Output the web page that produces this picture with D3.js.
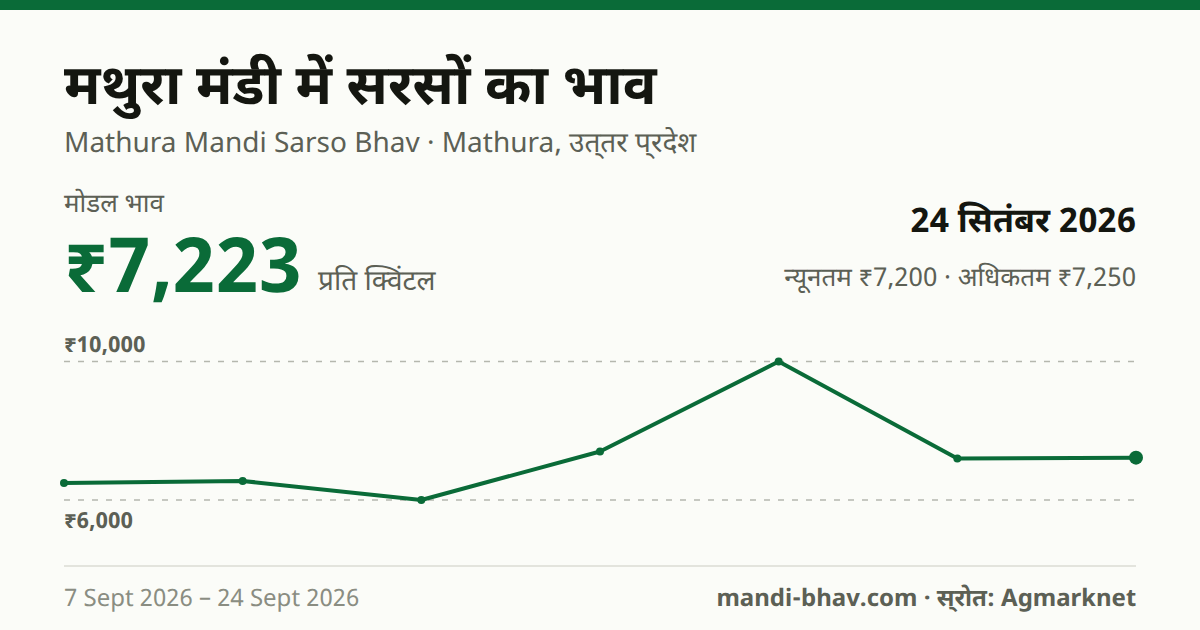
<!DOCTYPE html>
<html lang="hi">
<head>
<meta charset="utf-8">
<script src="https://cdn.jsdelivr.net/npm/d3@7"></script>
<style>
  html, body { margin: 0; padding: 0; background: #fbfcf8; }
  svg { display: block; }
  text { font-family: "Noto Sans Devanagari", "Noto Sans", sans-serif; text-rendering: geometricPrecision; }
</style>
</head>
<body>
<div class="canvas"></div>
<script>
// chart data
const observations = ['1', '2', '3', '4', '5', '6', '7']
const modalPrices = [6490, 6550, 6000, 7400, 10000, 7200, 7223]
const yTicks = [6000, 10000]
const yTickLabels = ['₹6,000', '₹10,000']

const green = '#0a6b38'
const ink = '#141610'
const muted = '#5c6055'
const faint = '#8a8d82'

const dimensions = { chartWidth: 1200, chartHeight: 630 }

const svg = d3
  .select('.canvas')
  .append('svg')
  .attr('width', dimensions.chartWidth)
  .attr('height', dimensions.chartHeight)

svg.append('rect').attr('width', 1200).attr('height', 630).attr('fill', '#fbfcf8')
svg.append('rect').attr('width', 1200).attr('height', 10).attr('fill', green)

// header texts
const label = (x, y, str, size, weight, fill, anchor = 'start') =>
  svg
    .append('text')
    .attr('x', x)
    .attr('y', y)
    .attr('font-size', size)
    .attr('font-weight', weight)
    .attr('fill', fill)
    .attr('text-anchor', anchor)
    .text(str)

label(64, 104, 'मथुरा मंडी में सरसों का भाव', 56, 700, ink)
label(64, 152, 'Mathura Mandi Sarso Bhav · Mathura, उत्\u200Cतर प्\u200Cरदेश', 28, 400, muted)
label(64, 212, 'मोडल भाव', 26, 400, muted)
label(64, 292, '₹7,223', 76, 700, green)
label(318, 290, 'प्रति क्विंटल', 28, 400, muted)
label(1136, 232, '24 सितंबर 2026', 34, 700, ink, 'end')
label(1136, 286, 'न्यूनतम ₹7,200 · अधिकतम ₹7,250', 26, 400, muted, 'end')

// scales
const x = d3.scalePoint().domain(observations).range([64, 1136])
const y = d3.scaleLinear().domain([6000, 10000]).range([500, 361.5])

// gridlines and tick labels
const yAxis = d3
  .axisLeft(y)
  .tickValues(yTicks)
  .tickSize(-1072)
  .offset(0)
  .tickFormat((d) => yTickLabels[yTicks.indexOf(d)])

const yAxisGroup = svg
  .append('g')
  .attr('class', 'y-axis')
  .attr('transform', 'translate(64, 0)')
  .call(yAxis)

yAxisGroup.select('.domain').remove()
yAxisGroup
  .selectAll('line')
  .attr('stroke', '#b5b7ae')
  .attr('stroke-width', 1.5)
  .attr('stroke-dasharray', '6 8')
yAxisGroup
  .selectAll('text')
  .attr('x', 0)
  .attr('text-anchor', 'start')
  .attr('dy', (d) => (d === 10000 ? -10 : 28))
  .attr('font-size', 22)
  .attr('font-weight', 700)
  .attr('fill', muted)
  .style('font-family', '"Noto Sans Devanagari", "Noto Sans", sans-serif')

// price line
const line = d3
  .line()
  .x((d, i) => x(observations[i]))
  .y((d) => y(d))

svg
  .append('path')
  .datum(modalPrices)
  .attr('fill', 'none')
  .attr('stroke', green)
  .attr('stroke-width', 4)
  .attr('stroke-linejoin', 'round')
  .attr('d', line)

svg
  .selectAll('circle')
  .data(modalPrices)
  .enter()
  .append('circle')
  .attr('cx', (d, i) => x(observations[i]))
  .attr('cy', (d) => y(d))
  .attr('r', (d, i) => (i === modalPrices.length - 1 ? 7 : 4))
  .attr('fill', green)

// footer
svg
  .append('line')
  .attr('x1', 64)
  .attr('x2', 1136)
  .attr('y1', 566)
  .attr('y2', 566)
  .attr('stroke', '#e3e4dd')
  .attr('stroke-width', 2)

label(64, 606, '7 Sept 2026 – 24 Sept 2026', 24, 400, faint)
label(1136, 606, 'mandi-bhav.com · स्\u200Cरोत: Agmarknet', 24, 700, muted, 'end')
</script>
</body>
</html>
